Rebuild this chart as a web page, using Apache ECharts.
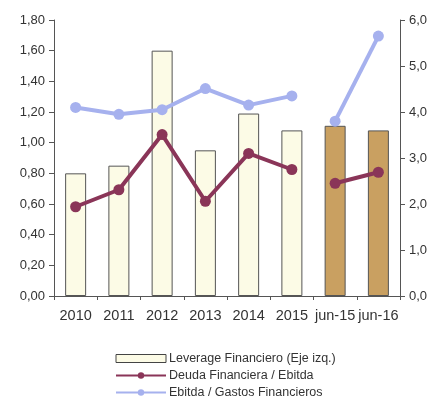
<!DOCTYPE html>
<html>
<head>
<meta charset="utf-8">
<script src="https://cdn.jsdelivr.net/npm/echarts@6/dist/echarts.min.js"></script>
<style>html,body{margin:0;padding:0;background:#fff}#c{width:441px;height:398px}</style>
</head>
<body>
<div id="c"></div>
<script>
const categories = ['2010','2011','2012','2013','2014','2015','jun-15','jun-16'];
const leverage = [0.80, 0.85, 1.60, 0.95, 1.19, 1.08, 1.11, 1.08];
const deudaEbitda = [1.94, 2.31, 3.51, 2.06, 3.10, 2.75, 2.45, 2.69];
const ebitdaGastos = [4.10, 3.95, 4.05, 4.51, 4.15, 4.35, 3.80, 5.65];
const leftTicks = [0,0.2,0.4,0.6,0.8,1.0,1.2,1.4,1.6,1.8];
const rightTicks = [0,1,2,3,4,5,6];
const names = ['Leverage Financiero (Eje izq.)','Deuda Financiera / Ebitda','Ebitda / Gastos Financieros'];
const splitAt = 6;

const seg = (arr, a, b) => arr.map((v, i) => (i >= a && i < b) ? v : '-');
const font = 'Liberation Sans, Arial, sans-serif';
const redC = '#8a3558', blueC = '#a6b1ee';

function lineSeries(name, arr, color, z) {
  return [[0, splitAt], [splitAt, arr.length]].map(([a, b]) => ({
    name, type: 'line', yAxisIndex: 1, data: seg(arr, a, b), z,
    symbol: 'circle', symbolSize: 11,
    lineStyle: { color, width: 4 }, itemStyle: { color },
    connectNulls: false, animation: false
  }));
}

const chart = echarts.init(document.getElementById('c'));
chart.setOption({
  animation: false,
  grid: { left: 54, right: 41, top: 20, bottom: 102 },
  legend: {
    orient: 'vertical', left: 115, top: 352, height: 100, itemWidth: 50, itemHeight: 8, itemGap: 4,
    padding: 0,
    data: [
      { name: names[0], icon: 'rect', itemStyle: { color: '#fcfbe6', borderColor: '#444', borderWidth: 1 } },
      { name: names[1] }, { name: names[2] }
    ],
    textStyle: { fontFamily: font, fontSize: 12.5, color: '#333', padding: [0,0,0,-2] }
  },
  xAxis: {
    type: 'category', data: categories, boundaryGap: true,
    axisLine: { lineStyle: { color: '#555' } },
    axisTick: { show: true, length: 4, lineStyle: { color: '#555' } },
    axisLabel: { fontFamily: font, fontSize: 14.5, color: '#333', margin: 12, interval: 0 }
  },
  yAxis: [
    { type: 'value', min: 0, max: 1.8, interval: 0.2, position: 'left',
      axisLine: { show: true, lineStyle: { color: '#555' } },
      axisTick: { show: true, length: 5, lineStyle: { color: '#555' } },
      splitLine: { show: false },
      axisLabel: { fontFamily: font, fontSize: 13, color: '#333', margin: 9,
        formatter: v => v.toFixed(2).replace('.', ',') } },
    { type: 'value', min: 0, max: 6, interval: 1, position: 'right',
      axisLine: { show: true, lineStyle: { color: '#555' } },
      axisTick: { show: true, length: 5, lineStyle: { color: '#555' } },
      splitLine: { show: false },
      axisLabel: { fontFamily: font, fontSize: 13, color: '#333', margin: 9,
        formatter: v => v.toFixed(1).replace('.', ',') } }
  ],
  series: [
    { name: names[0], type: 'bar', yAxisIndex: 0, barWidth: 21, z: 1,
      data: leverage.map((v, i) => ({ value: v, itemStyle: {
        color: categories[i].startsWith('jun') ? '#c9a061' : '#fcfbe6',
        borderColor: '#555', borderWidth: 1 } })),
      itemStyle: { color: '#fcfbe6', borderColor: '#555', borderWidth: 1 } },
    ...lineSeries(names[2], ebitdaGastos, blueC, 3),
    ...lineSeries(names[1], deudaEbitda, redC, 4)
  ]
});
</script>
</body>
</html>
